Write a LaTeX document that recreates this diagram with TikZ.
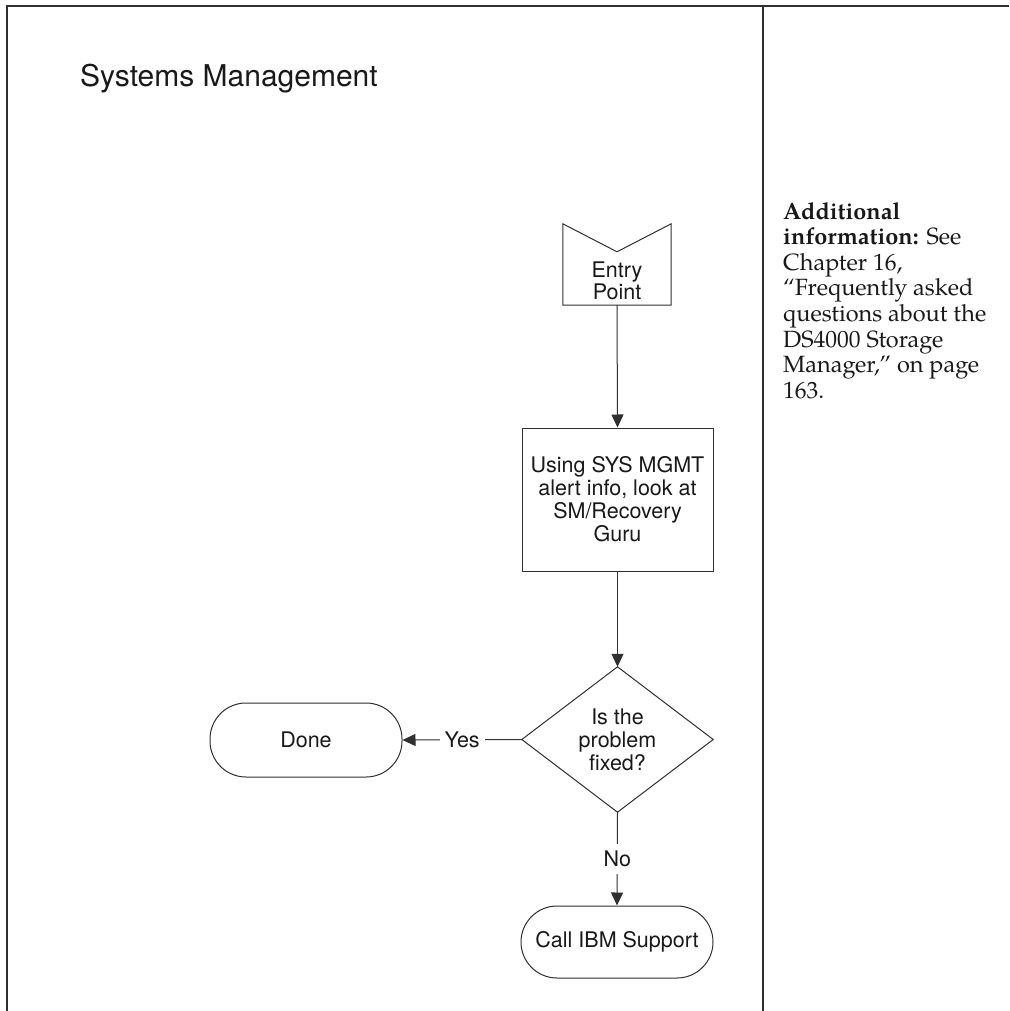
\documentclass[tikz,border=0pt]{standalone}
\usepackage{fontspec}
\setmainfont{TeX Gyre Pagella}
\newfontfamily\helv{TeX Gyre Heros}
\usetikzlibrary{arrows.meta,calc}
\definecolor{ln}{HTML}{303030}
\begin{document}
\begin{tikzpicture}[x=1pt,y=-1pt,
  lbl/.style={font=\helv\fontsize{21.5}{23}\selectfont, align=center, text=black!90},
  procbox/.style={draw=ln, line width=1pt, minimum width=191pt, minimum height=143pt, inner sep=0pt, lbl},
  term/.style={draw=ln, line width=1pt, rounded corners=36pt, inner sep=0pt, lbl},
  conn/.style={draw=ln, line width=1pt, -{Triangle[length=13pt,width=12pt]}},
  edgelbl/.style={fill=white, lbl, inner xsep=5pt, inner ysep=7pt}]
\useasboundingbox (0,0) rectangle (1009,1011);
\fill[white] (0,0) rectangle (1009,1011);
% frame
\draw[ln, line width=2pt] (7,1011) -- (7,6) -- (1009,6);
\draw[ln, line width=1.2pt] (763,6) -- (763,1011);
% title
\node[anchor=base west, inner sep=0pt, font=\helv\fontsize{30}{34}\selectfont, text=black!90] (title) at (80,87) {Systems Management};
% entry point
\node[minimum width=108pt, minimum height=81pt, inner sep=0pt] (entry) at (617,264.5) {};
\draw[ln, line width=1pt] (entry.north west) -- ($(entry.north)+(0,28)$) -- (entry.north east) -- (entry.south east) -- (entry.south west) -- cycle;
\node[lbl, inner sep=0pt] (entrytext) at (617,281) {Entry\\[-1pt]Point};
% process box
\node[procbox] (proc) at (617.5,499.5) {Using SYS MGMT\\alert info, look at\\SM/Recovery\\Guru};
% decision
\node[minimum width=191pt, minimum height=145pt, inner sep=0pt, lbl] (dec) at (617.5,739.5) {Is the\\problem\\fixed?};
\draw[ln, line width=1pt] (dec.north) -- (dec.east) -- (dec.south) -- (dec.west) -- cycle;
% terminators
\node[term, minimum width=192pt, minimum height=74pt] (done) at (306,740) {Done};
\node[term, minimum width=192pt, minimum height=72pt] (call) at (617,942) {Call IBM Support};
% connectors
\draw[conn] (entry.south) -- (proc.north);
\draw[conn] (proc.south) -- (dec.north);
\draw[conn] (dec.west) -- node[edgelbl] {Yes} (done.east);
\draw[conn] (dec.south) -- node[edgelbl] {No} (call.north);
% side note
\node[anchor=north west, inner sep=0pt, align=left, font=\fontsize{23.5}{25.6}\selectfont, text=black!90] (note) at (783,202)
{\textbf{Additional}\\\textbf{information:} See\\Chapter 16,\\``Frequently asked\\questions about the\\DS4000 Storage\\Manager,'' on page\\163.};
\end{tikzpicture}
\end{document}
